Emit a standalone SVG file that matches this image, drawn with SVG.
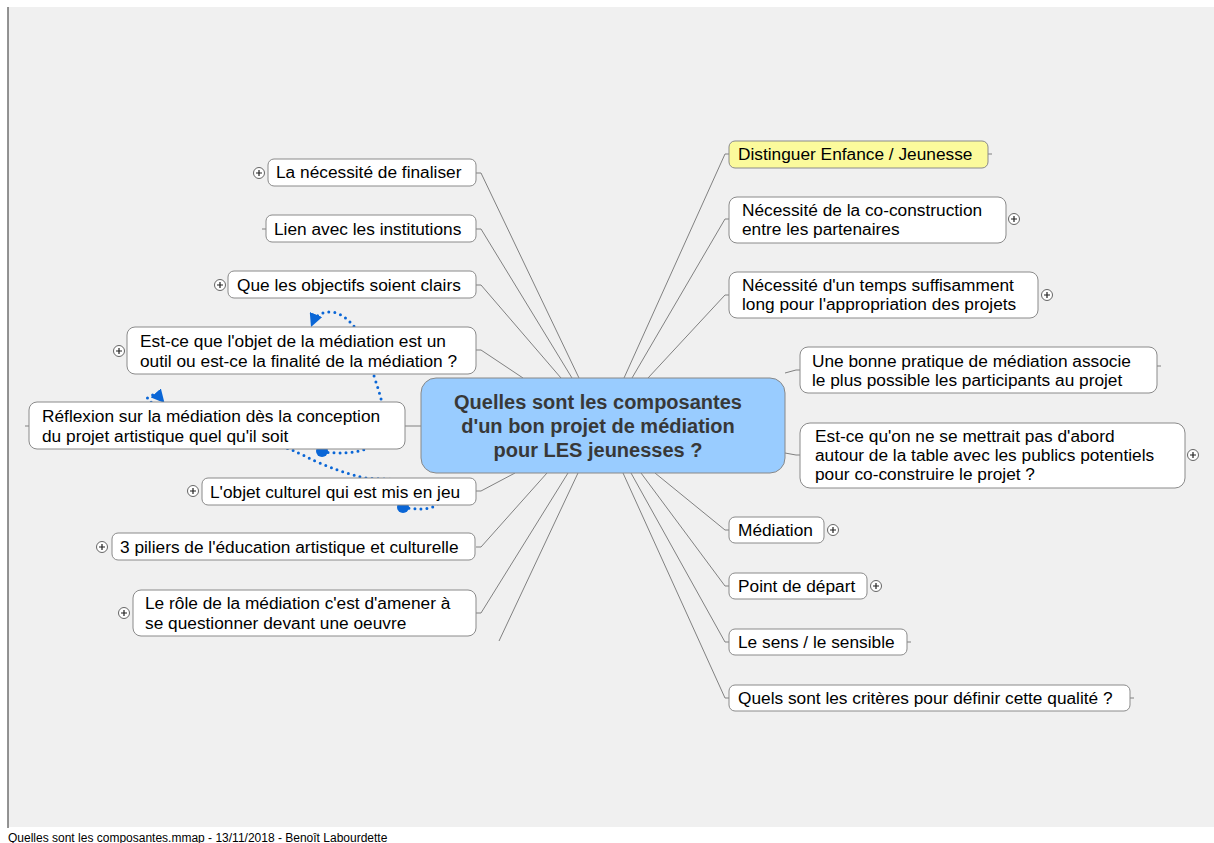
<svg xmlns="http://www.w3.org/2000/svg" width="1214" height="843" viewBox="0 0 1214 843">
<defs>
<style>
.node rect{fill:#fff;stroke:#8a8a8a;stroke-width:1}
.t{font-family:"Liberation Sans",Arial,sans-serif;font-size:17.3px;fill:#000}
.ct{font-family:"Liberation Sans",Arial,sans-serif;font-size:20px;font-weight:bold;fill:#383838;text-anchor:middle}
.con path{fill:none;stroke:#808080;stroke-width:1}
.rel{fill:none;stroke:#0a66d6;stroke-width:3;stroke-dasharray:0 6;stroke-linecap:round}
.plus circle{fill:#fff;stroke:#666;stroke-width:1}
.plus path{stroke:#222;stroke-width:1.2}
.stub{stroke:#808080;stroke-width:1}
</style>
<marker id="ah" viewBox="0 0 10 10" refX="6" refY="5" markerWidth="4.5" markerHeight="4.5" orient="auto" markerUnits="strokeWidth">
<path d="M0,0 L10,5 L0,10 z" fill="#0a66d6"/>
</marker>
<symbol id="pl" overflow="visible"><g class="plus"><circle cx="0" cy="0" r="5.5"/><path d="M-3,0 H3 M0,-3 V3"/></g></symbol>
</defs>
<rect x="0" y="0" width="1214" height="843" fill="#fff"/>
<rect x="8" y="7" width="1206" height="820" fill="#f0f0f0"/>
<line x1="8" y1="7" x2="8" y2="828" stroke="#707070" stroke-width="1.5"/>
<text x="8" y="842" font-family="'Liberation Sans',Arial,sans-serif" font-size="12" fill="#000">Quelles sont les composantes.mmap - 13/11/2018 - Benoît Labourdette</text>

<g id="connectors" class="con">
<path d="M476,173 H481 L579,378"/>
<path d="M476,229 H481 L572,378"/>
<path d="M476,285 H481 L561,378"/>
<path d="M476,350 H481 L523,378"/>
<path d="M405,426 H421"/>
<path d="M476,491 H481 L515,473"/>
<path d="M476,547 H481 L547,473"/>
<path d="M476,613 H481 L568,473"/>
<path d="M499,641 L578,473"/>
<path d="M729,154 H725 L624,378"/>
<path d="M729,219 H725 L632,378"/>
<path d="M729,295 H725 L648,378"/>
<path d="M800,370 H796 L785,373"/>
<path d="M800,455 H796 L785,453"/>
<path d="M729,530 H725 L655,473"/>
<path d="M729,586 H725 L641,473"/>
<path d="M729,642 H725 L631,473"/>
<path d="M729,698 H725 L623,473"/>
</g>

<g id="relations">
<path class="rel" d="M322,452 C355,455 384,452 384,420 C383,395 375,385 370,360 C362,330 345,312 330,312 C320,312 315,317 313,322" marker-end="url(#ah)"/>
<path class="rel" d="M403,507 C425,512 445,508 440,492 C435,480 400,480 365,478 C330,470 310,458 292,450 C220,425 140,405 148,397 Q155,392 161,399" marker-end="url(#ah)"/>
<circle cx="322" cy="451" r="6" fill="#0a66d6"/>
<circle cx="403" cy="507" r="6" fill="#0a66d6"/>
</g>

<g id="center">
<rect x="421" y="378" width="364" height="95" rx="15" fill="#99ccff" stroke="#888" stroke-width="1"/>
<text class="ct" x="598" y="409">Quelles sont les composantes</text>
<text class="ct" x="598" y="433">d'un bon projet de médiation</text>
<text class="ct" x="598" y="457">pour LES jeunesses ?</text>
</g>

<g id="n-finaliser" class="node">
<rect x="268" y="159" width="208" height="27" rx="6"/>
<text class="t" x="276" y="178">La nécessité de finaliser</text>
<use href="#pl" x="259" y="173"/>
</g>
<g id="n-institutions" class="node">
<line class="stub" x1="262" y1="229" x2="266" y2="229"/>
<rect x="266" y="215" width="210" height="27" rx="6"/>
<text class="t" x="274" y="235">Lien avec les institutions</text>
</g>
<g id="n-objectifs" class="node">
<rect x="228" y="271" width="248" height="27" rx="6"/>
<text class="t" x="237" y="291">Que les objectifs soient clairs</text>
<use href="#pl" x="220" y="285"/>
</g>
<g id="n-objet-mediation" class="node">
<rect x="127" y="327" width="349" height="47" rx="8"/>
<text class="t" x="140" y="347">Est-ce que l'objet de la médiation est un</text>
<text class="t" x="140" y="367">outil ou est-ce la finalité de la médiation ?</text>
<use href="#pl" x="119" y="351"/>
</g>
<g id="n-reflexion" class="node">
<line class="stub" x1="25" y1="426" x2="29" y2="426"/>
<rect x="29" y="402" width="376" height="47" rx="8"/>
<text class="t" x="42" y="422">Réflexion sur la médiation dès la conception</text>
<text class="t" x="42" y="442">du projet artistique quel qu'il soit</text>
</g>
<g id="n-objet-culturel" class="node">
<rect x="202" y="478" width="274" height="27" rx="6"/>
<text class="t" x="210" y="498">L'objet culturel qui est mis en jeu</text>
<use href="#pl" x="193" y="491"/>
</g>
<g id="n-piliers" class="node">
<rect x="112" y="533" width="363" height="27" rx="6"/>
<text class="t" x="120" y="553">3 piliers de l'éducation artistique et culturelle</text>
<use href="#pl" x="102" y="547"/>
</g>
<g id="n-role" class="node">
<rect x="133" y="590" width="343" height="46" rx="8"/>
<text class="t" x="145" y="609">Le rôle de la médiation c'est d'amener à</text>
<text class="t" x="145" y="629">se questionner devant une oeuvre</text>
<use href="#pl" x="124" y="613"/>
</g>

<g id="n-distinguer" class="node">
<line class="stub" x1="988" y1="154" x2="992" y2="154"/>
<rect x="729" y="141" width="259" height="27" rx="6" style="fill:#fbfa9c"/>
<text class="t" x="738" y="160">Distinguer Enfance / Jeunesse</text>
</g>
<g id="n-coconstruction" class="node">
<rect x="729" y="197" width="277" height="46" rx="8"/>
<text class="t" x="742" y="216">Nécessité de la co-construction</text>
<text class="t" x="742" y="235">entre les partenaires</text>
<use href="#pl" x="1014" y="219"/>
</g>
<g id="n-temps" class="node">
<rect x="729" y="272" width="309" height="46" rx="8"/>
<text class="t" x="742" y="291">Nécessité d'un temps suffisamment</text>
<text class="t" x="742" y="310">long pour l'appropriation des projets</text>
<use href="#pl" x="1047" y="295"/>
</g>
<g id="n-bonne-pratique" class="node">
<line class="stub" x1="1157" y1="366" x2="1161" y2="366"/>
<rect x="800" y="347" width="357" height="46" rx="8"/>
<text class="t" x="812" y="367">Une bonne pratique de médiation associe</text>
<text class="t" x="812" y="386">le plus possible les participants au projet</text>
</g>
<g id="n-table" class="node">
<rect x="800" y="423" width="385" height="65" rx="10"/>
<text class="t" x="815" y="442">Est-ce qu'on ne se mettrait pas d'abord</text>
<text class="t" x="815" y="461">autour de la table avec les publics potentiels</text>
<text class="t" x="815" y="480">pour co-construire le projet ?</text>
<use href="#pl" x="1193" y="455"/>
</g>
<g id="n-mediation" class="node">
<rect x="729" y="517" width="95" height="26" rx="6"/>
<text class="t" x="738" y="536">Médiation</text>
<use href="#pl" x="833" y="530"/>
</g>
<g id="n-depart" class="node">
<rect x="729" y="573" width="138" height="26" rx="6"/>
<text class="t" x="738" y="592">Point de départ</text>
<use href="#pl" x="876" y="586"/>
</g>
<g id="n-sens" class="node">
<line class="stub" x1="907" y1="642" x2="911" y2="642"/>
<rect x="729" y="629" width="178" height="26" rx="6"/>
<text class="t" x="738" y="648">Le sens / le sensible</text>
</g>
<g id="n-criteres" class="node">
<line class="stub" x1="1130" y1="698" x2="1134" y2="698"/>
<rect x="729" y="685" width="401" height="26" rx="6"/>
<text class="t" x="738" y="704">Quels sont les critères pour définir cette qualité ?</text>
</g>
</svg>
